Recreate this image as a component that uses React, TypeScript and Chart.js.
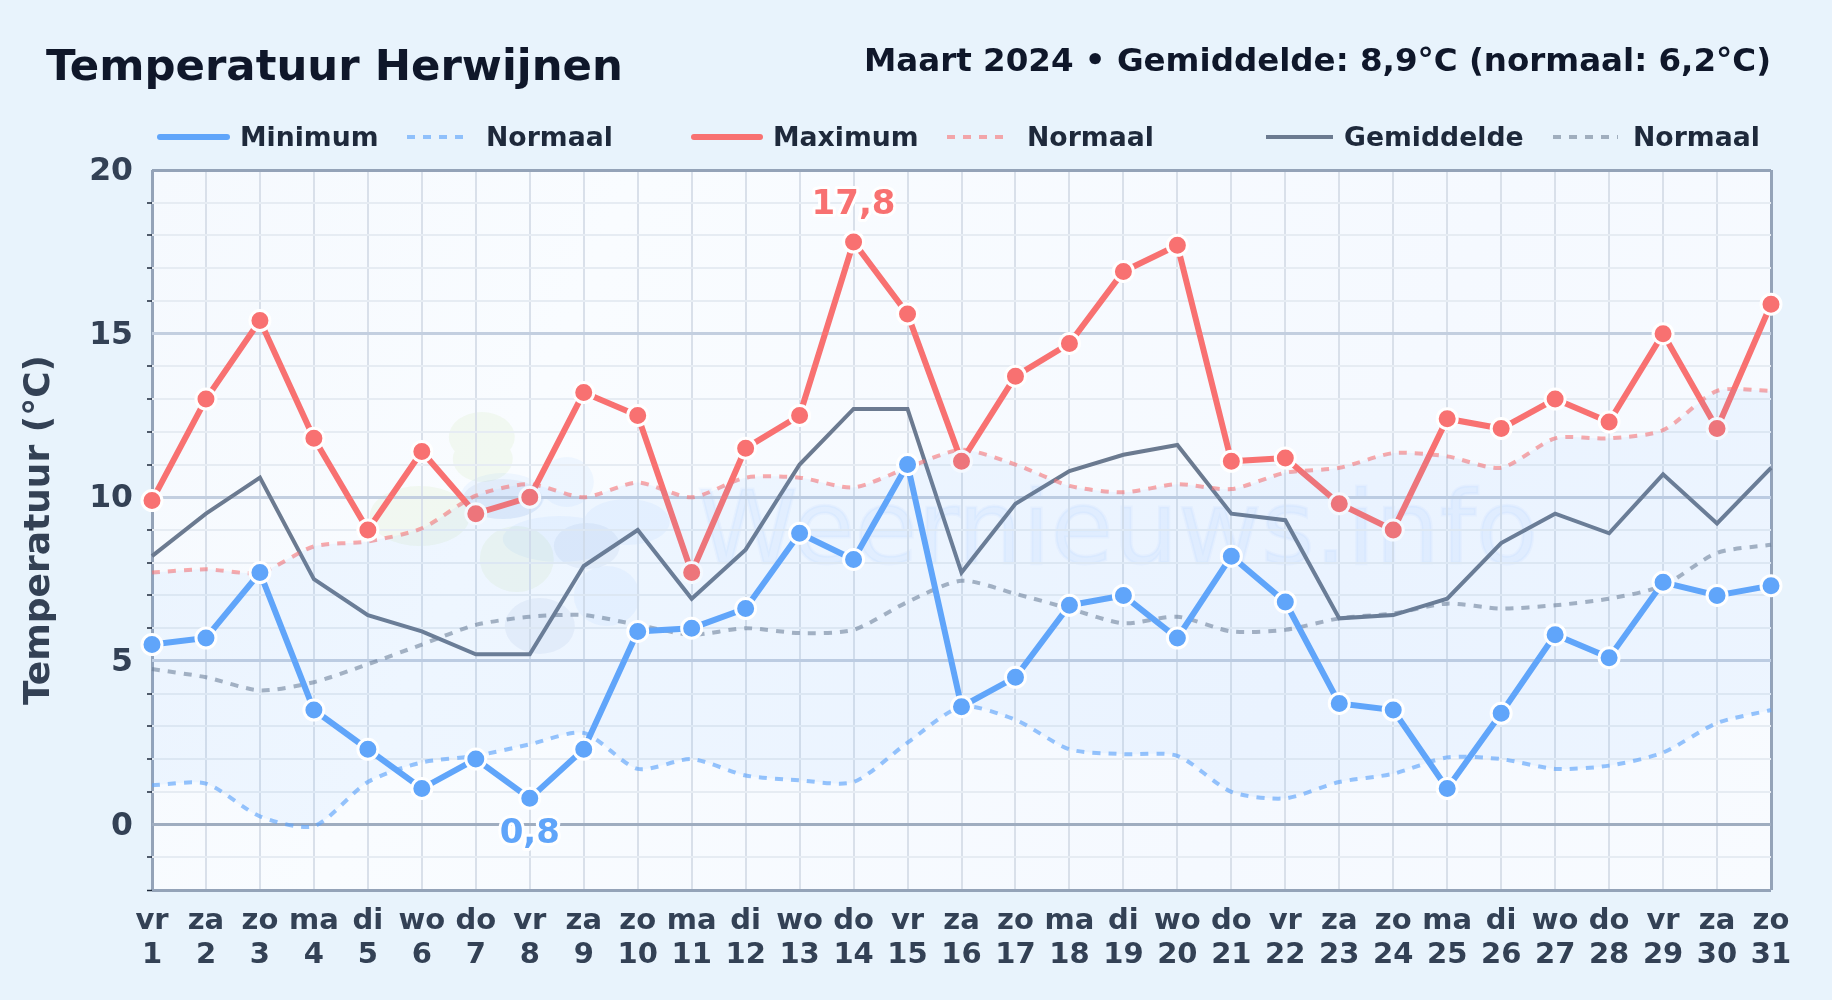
import React, { useEffect, useRef } from "react";
import { Chart, registerables } from "chart.js";

Chart.register(...registerables);

const weekdays = ["vr","za","zo","ma","di","wo","do","vr","za","zo","ma","di","wo","do","vr","za","zo","ma","di","wo","do","vr","za","zo","ma","di","wo","do","vr","za","zo"];
const days = ["1","2","3","4","5","6","7","8","9","10","11","12","13","14","15","16","17","18","19","20","21","22","23","24","25","26","27","28","29","30","31"];
const minimum = [5.5,5.7,7.7,3.5,2.3,1.1,2,0.8,2.3,5.9,6,6.6,8.9,8.1,11,3.6,4.5,6.7,7,5.7,8.2,6.8,3.7,3.5,1.1,3.4,5.8,5.1,7.4,7,7.3];
const maximum = [9.9,13,15.4,11.8,9,11.4,9.5,10,13.2,12.5,7.7,11.5,12.5,17.8,15.6,11.1,13.7,14.7,16.9,17.7,11.1,11.2,9.8,9,12.4,12.1,13,12.3,15,12.1,15.9];
const gemiddelde = [8.2,9.5,10.6,7.5,6.4,5.9,5.2,5.2,7.9,9,6.9,8.4,11,12.7,12.7,7.7,9.8,10.8,11.3,11.6,9.5,9.3,6.3,6.4,6.9,8.6,9.5,8.9,10.7,9.2,10.9];
const normaalMin = [1.2,1.25,0.25,-0.05,1.3,1.9,2.1,2.45,2.8,1.7,2,1.5,1.35,1.3,2.5,3.6,3.2,2.3,2.15,2.1,1,0.8,1.3,1.55,2.05,2,1.7,1.8,2.2,3.1,3.5];
const normaalMax = [7.7,7.8,7.7,8.5,8.65,9.05,10.05,10.4,10,10.45,10,10.6,10.6,10.3,10.9,11.45,11,10.35,10.15,10.4,10.25,10.75,10.9,11.35,11.25,10.9,11.8,11.8,12.05,13.25,13.25];
const normaalGem = [4.75,4.5,4.1,4.35,4.9,5.5,6.1,6.35,6.4,6.1,5.8,6,5.85,5.95,6.8,7.45,7.05,6.6,6.15,6.35,5.9,5.95,6.3,6.45,6.75,6.6,6.7,6.9,7.3,8.3,8.55];

const titleText = "Temperatuur Herwijnen";
const subtitleText = "Maart 2024 • Gemiddelde: 8,9°C (normaal: 6,2°C)";
const axisTitle = "Temperatuur (°C)";
const watermark = "Weernieuws.info";

const FONT = '"DejaVu Sans"';
const BLUE = "#60a5fa";
const RED = "#f87171";
const SLATE = "#6b7a90";
const BORDER = "#94a3b8";

// swatch start, swatch end, text start for each legend entry
const legendLayout = [
  [160, 227, 240], [407, 465, 486], [694, 760, 773],
  [947, 1005, 1027], [1266, 1333, 1344], [1553, 1618, 1633],
];

const blobsGreen = [[6,-278,33,25],[7,-256,30,23],[-56,-199,50,30],[41,-156,37,33]];
const blobsBlue = [[27,-219,42,23],[91,-233,27,25],[151,-193,43,23],[84,-176,57,23],[131,-119,33,30]];
const blobsDark = [[64,-89,35,28],[111,-169,33,23],[27,-216,40,20]];

const backgroundPlugin = {
  id: "plotBackground",
  beforeDraw(chart: any) {
    const { ctx, chartArea: a, scales } = chart;
    // nudge the value labels onto their grid lines
    scales.y.getLabelItems().forEach((it: any) => {
      if (!it.options.__moved) {
        it.options.translation[1] += 2;
        it.options.__moved = true;
      }
    });
    ctx.save();
    const g = ctx.createLinearGradient(a.left, a.top, a.right, a.bottom);
    g.addColorStop(0, "#f5f9fe");
    g.addColorStop(0.25, "#f9fcff");
    g.addColorStop(0.7, "#f5f9ff");
    g.addColorStop(1, "#f8fbff");
    ctx.fillStyle = g;
    ctx.fillRect(a.left, a.top, a.right - a.left, a.bottom - a.top);

    // faint logo and site name behind the grid
    const ox = a.left + (a.right - a.left) * 0.2;
    const oy = a.bottom - 175;
    const drawBlobs = (list: number[][], fill: string) => {
      ctx.beginPath();
      for (const [dx, dy, rx, ry] of list) {
        ctx.moveTo(ox + dx + rx, oy + dy);
        ctx.ellipse(ox + dx, oy + dy, rx, ry, 0, 0, Math.PI * 2);
      }
      ctx.fillStyle = fill;
      ctx.fill();
    };
    drawBlobs(blobsGreen, "rgba(190,225,150,0.13)");
    drawBlobs(blobsBlue, "rgba(96,165,250,0.07)");
    drawBlobs(blobsDark, "rgba(70,120,190,0.07)");

    ctx.font = `102px ${FONT}`;
    ctx.textAlign = "left";
    ctx.textBaseline = "alphabetic";
    ctx.fillStyle = "rgba(96,165,250,0.08)";
    ctx.fillText(watermark, a.left + 545, a.top + 393);
    ctx.strokeStyle = "rgba(96,165,250,0.05)";
    ctx.lineWidth = 3;
    ctx.strokeText(watermark, a.left + 545, a.top + 393);
    ctx.restore();
  },
};

const headerPlugin = {
  id: "headerAndLegend",
  afterDraw(chart: any) {
    const { ctx } = chart;
    ctx.save();
    ctx.textBaseline = "alphabetic";
    ctx.fillStyle = "#0f172a";
    ctx.textAlign = "left";
    ctx.font = `bold 43.4px ${FONT}`;
    ctx.fillText(titleText, 46, 80);
    ctx.textAlign = "right";
    ctx.font = `bold 32.5px ${FONT}`;
    ctx.fillText(subtitleText, 1771, 71);

    ctx.textAlign = "left";
    ctx.font = `bold 26.7px ${FONT}`;
    chart.data.datasets.forEach((ds: any, i: number) => {
      const [x0, x1, tx] = legendLayout[i];
      ctx.beginPath();
      ctx.moveTo(x0, 137);
      ctx.lineTo(x1, 137);
      ctx.strokeStyle = ds.borderColor;
      ctx.lineWidth = ds.borderWidth;
      ctx.lineCap = ds.borderDash ? "butt" : i < 4 ? "round" : "butt";
      ctx.setLineDash(ds.borderDash || []);
      ctx.stroke();
      ctx.setLineDash([]);
      ctx.fillStyle = "#1e293b";
      ctx.fillText(ds.label, tx, 146);
    });
    ctx.restore();
  },
};

const extremesPlugin = {
  id: "extremes",
  afterDatasetsDraw(chart: any) {
    const { ctx, scales } = chart;
    const label = (values: number[], idx: number, color: string, off: number) => {
      const x = scales.x.getPixelForValue(idx);
      const y = scales.y.getPixelForValue(values[idx]) + off;
      const text = values[idx].toFixed(1).replace(".", ",");
      ctx.save();
      ctx.font = `bold 34px ${FONT}`;
      ctx.textAlign = "center";
      ctx.textBaseline = "middle";
      ctx.lineJoin = "round";
      ctx.lineWidth = 6;
      ctx.strokeStyle = "#ffffff";
      ctx.strokeText(text, x, y);
      ctx.fillStyle = color;
      ctx.fillText(text, x, y);
      ctx.restore();
    };
    label(maximum, maximum.indexOf(Math.max(...maximum)), RED, -37);
    label(minimum, minimum.indexOf(Math.min(...minimum)), BLUE, 36);
  },
};

const mainLine = (label: string, data: number[], color: string) => ({
  label, data, borderColor: color, backgroundColor: color, borderWidth: 6,
  pointRadius: 10, pointBorderWidth: 3, pointBorderColor: "#ffffff", pointBackgroundColor: color,
  tension: 0, clip: false as const, fill: false,
});
const normalLine = (data: number[], color: string) => ({
  label: "Normaal", data, borderColor: color, borderWidth: 4, borderDash: [8, 8],
  pointRadius: 0, tension: 0.25, clip: false as const, fill: false as any,
});

export default function App() {
  const ref = useRef<HTMLCanvasElement>(null);
  useEffect(() => {
    const prevBg = document.body.style.background;
    document.body.style.background = "#e8f3fc";
    const chart = new Chart(ref.current as HTMLCanvasElement, {
      type: "line",
      data: {
        labels: days,
        datasets: [
          mainLine("Minimum", minimum, BLUE),
          {
            ...normalLine(normaalMin, "rgba(96,165,250,0.65)"),
            fill: { target: 3 },
            backgroundColor: "rgba(96,165,250,0.07)",
          },
          mainLine("Maximum", maximum, RED),
          normalLine(normaalMax, "rgba(248,113,113,0.6)"),
          {
            label: "Gemiddelde", data: gemiddelde, borderColor: SLATE, borderWidth: 4,
            pointRadius: 0, tension: 0, clip: false as const, fill: false,
          },
          normalLine(normaalGem, "rgba(100,116,139,0.55)"),
        ],
      } as any,
      options: {
        responsive: false,
        animation: false,
        devicePixelRatio: 1,
        layout: { padding: { left: 0, top: 170, right: 61, bottom: 0 } },
        plugins: {
          legend: { display: false },
          tooltip: { enabled: false },
          title: { display: false },
        },
        scales: {
          x: {
            type: "category",
            afterFit(scale: any) { scale.height = 110; },
            offset: false,
            border: { display: false },
            grid: {
              drawTicks: false,
              color: (c: any) => (c.index === 0 || c.index === days.length - 1 ? BORDER : "#d9e0ea"),
              lineWidth: (c: any) => (c.index === 0 || c.index === days.length - 1 ? 3 : 2),
            },
            ticks: {
              autoSkip: false,
              maxRotation: 0,
              minRotation: 0,
              padding: 14,
              color: "#334155",
              font: { family: FONT, weight: "bold", size: 29, lineHeight: 1.18 },
              callback: (_v: any, i: number) => [weekdays[i], days[i]],
            },
          },
          y: {
            type: "linear",
            min: -2,
            max: 20,
            afterFit(scale: any) { scale.width = 152; },
            border: { display: false },
            title: {
              display: true,
              text: axisTitle,
              color: "#334155",
              font: { family: FONT, weight: "bold", size: 36 },
              padding: { top: 18, bottom: 0 },
            },
            grid: {
              tickLength: 5,
              tickWidth: 1.5,
              tickColor: (c: any) => (c.tick.value % 5 === 0 ? "transparent" : "#1e293b"),
              color: (c: any) => {
                const v = c.tick.value;
                if (v === 20 || v === -2) return BORDER;
                if (v === 0) return "#9fadc0";
                return v % 5 === 0 ? "#c3cfe0" : "#e6ecf3";
              },
              lineWidth: (c: any) => (c.tick.value % 5 === 0 || c.tick.value === -2 ? 3 : 2),
            },
            ticks: {
              stepSize: 1,
              autoSkip: false,
              padding: 14,
              color: "#334155",
              font: { family: FONT, weight: "bold", size: 31.5 },
              callback: (v: any) => (Number(v) % 5 === 0 && Number(v) >= 0 ? String(v) : ""),
            },
          },
        },
      } as any,
      plugins: [backgroundPlugin, extremesPlugin, headerPlugin],
    });
    return () => {
      chart.destroy();
      document.body.style.background = prevBg;
    };
  }, []);
  return (
    <div style={{ position: "absolute", left: 0, top: 0, width: 1832, height: 1000, background: "#e8f3fc" }}>
      <canvas ref={ref} width={1832} height={1000} style={{ display: "block" }} />
    </div>
  );
}
